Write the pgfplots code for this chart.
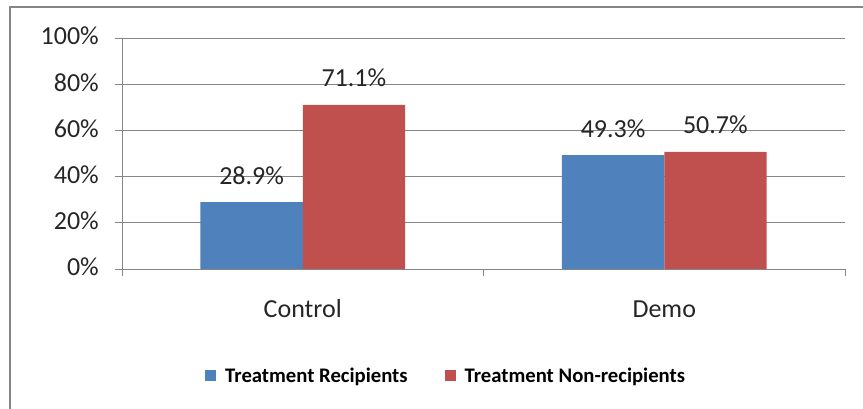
\documentclass[border=0pt]{standalone}
\usepackage{fontspec}
\setmainfont{Carlito}
\usepackage{pgfplots}
\pgfplotsset{compat=1.18}
\definecolor{cblue}{RGB}{79,129,189}
\definecolor{cred}{RGB}{192,80,77}
\definecolor{cgrid}{RGB}{134,134,134}
\begin{document}
\begin{tikzpicture}[x=1pt,y=1pt]
\useasboundingbox (0,0) rectangle (863,409);
\draw[cgrid, line width=1.5pt] (10,0) -- (10,402) -- (863,402);
\begin{axis}[
  at={(122pt,140pt)}, anchor=south west,
  scale only axis, width=723pt, height=231pt,
  xmin=-0.5, xmax=1.5, ymin=0, ymax=100,
  ybar=0pt, bar width=102.3pt,
  axis x line*=bottom, axis y line*=left,
  axis line style={cgrid, line width=0.9pt},
  ymajorgrids, grid style={cgrid, line width=0.9pt},
  tick align=outside, major tick length=7pt,
  tick style={cgrid, line width=0.9pt},
  /pgf/number format/assume math mode=true,
  ytick={0,20,40,60,80,100},
  yticklabels={0\%,20\%,40\%,60\%,80\%,100\%},
  y tick label style={font=\fontsize{26}{30}\selectfont, text=black!85, anchor=base east, inner sep=0pt, xshift=-16pt, yshift=-7pt},
  xtick={-0.5,0.5,1.5}, xticklabels={},
  extra x ticks={0,1}, extra x tick labels={Control,Demo},
  extra x tick style={major tick length=0pt},
  x tick label style={font=\fontsize{26}{30}\selectfont, text=black!85, anchor=base, inner sep=0pt, yshift=-49pt},
  nodes near coords={\pgfmathprintnumber[fixed,fixed zerofill,precision=1]{\pgfplotspointmeta}\%},
  every node near coord/.append style={font=\fontsize{26}{30}\selectfont, text=black!85, anchor=base, inner sep=0pt, yshift=18pt},
  legend columns=2,
  legend image code/.code={\fill[#1, draw=none] (0pt,-5.5pt) rectangle (11pt,5.5pt);},
  legend style={draw=none, fill=none, at={(axis description cs:0.1148,-0.463)}, anchor=west, inner sep=0pt, font=\fontsize{20.7}{24}\selectfont\bfseries, nodes={inner sep=0pt}, /tikz/every odd column/.append style={column sep=9pt}, /tikz/every even column/.append style={column sep=37pt}},
]
\addplot[fill=cblue, draw=none] coordinates {(0,28.9) (1,49.3)};
\addplot[fill=cred, draw=none] coordinates {(0,71.1) (1,50.7)};
\legend{Treatment Recipients, Treatment Non-recipients}
\end{axis}
\end{tikzpicture}
\end{document}
